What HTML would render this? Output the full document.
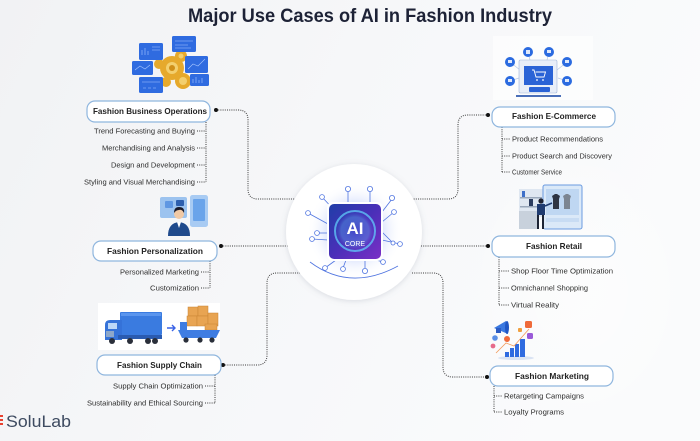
<!DOCTYPE html>
<html><head><meta charset="utf-8"><style>
html,body{margin:0;padding:0;width:700px;height:441px;overflow:hidden;background:#f5f6f8}
svg{display:block}
</style></head><body>
<svg width="700" height="441" viewBox="0 0 700 441" xmlns="http://www.w3.org/2000/svg" font-family="'Liberation Sans', sans-serif">
<defs>
<linearGradient id="bg" x1="0" y1="0" x2="1" y2="0.3">
<stop offset="0" stop-color="#f1f2f4"/><stop offset="0.5" stop-color="#f6f7f9"/><stop offset="1" stop-color="#fafbfc"/>
</linearGradient>
<radialGradient id="glow" cx="0.5" cy="0.5" r="0.5">
<stop offset="0" stop-color="#6f5cf0" stop-opacity="0.55"/><stop offset="0.6" stop-color="#8fa8f5" stop-opacity="0.25"/><stop offset="1" stop-color="#ffffff" stop-opacity="0"/>
</radialGradient>
<radialGradient id="soft" cx="0.5" cy="0.5" r="0.5">
<stop offset="0" stop-color="#ffffff" stop-opacity="0.5"/><stop offset="1" stop-color="#ffffff" stop-opacity="0"/>
</radialGradient>
<linearGradient id="chip" x1="0" y1="0" x2="1" y2="1">
<stop offset="0" stop-color="#1f3ea8"/><stop offset="0.5" stop-color="#4a2fb8"/><stop offset="1" stop-color="#7a2fc6"/>
</linearGradient>
<radialGradient id="chipin" cx="0.5" cy="0.5" r="0.5">
<stop offset="0" stop-color="#3b56d8"/><stop offset="0.7" stop-color="#5fd0ff" stop-opacity="0.6"/><stop offset="1" stop-color="#3b56d8" stop-opacity="0"/>
</radialGradient>
<filter id="sh" x="-20%" y="-20%" width="140%" height="140%"><feDropShadow dx="0" dy="1" stdDeviation="3" flood-color="#7a8498" flood-opacity="0.25"/></filter>
</defs>
<rect width="700" height="441" fill="url(#bg)"/>
<rect x="460" y="140" width="240" height="301" fill="url(#soft)"/>

<!-- Title -->
<text x="188" y="22" font-size="19" font-weight="bold" fill="#1d2236" textLength="364" lengthAdjust="spacingAndGlyphs">Major Use Cases of AI in Fashion Industry</text>

<!-- main connectors -->
<g fill="none" stroke="#3a3a3a" stroke-width="1" stroke-dasharray="1 1.2">
<path d="M216,110 H238 Q248,110 248,120 V189 Q248,199 258,199 H296"/>
<path d="M488,115 H468 Q458,115 458,125 V189 Q458,199 448,199 H413"/>
<path d="M221,246 H288"/>
<path d="M223,365 H257 Q267,365 267,355 V283 Q267,273 277,273 H300"/>
<path d="M488,246 H421"/>
<path d="M412,273 H433 Q443,273 443,283 V367 Q443,377 453,377 H487"/>
<!-- sub connectors -->
<path d="M206,122 V182 M197,131 H206 M197,148 H206 M197,165 H206 M197,182 H206"/>
<path d="M502,127 V172 M502,139 H510 M502,156 H510 M502,172 H510"/>
<path d="M210,261 V288 M201,272 H210 M201,288 H210"/>
<path d="M215,375 V403 M205,386 H215 M205,403 H215"/>
<path d="M499,257 V305 M499,271 H509 M499,288 H509 M499,305 H509"/>
<path d="M494,386 V412 M494,396 H502 M494,412 H502"/>
</g>
<g fill="#111">
<circle cx="216" cy="110" r="2"/><circle cx="488" cy="115" r="2"/><circle cx="221" cy="246" r="2"/>
<circle cx="223" cy="365" r="2"/><circle cx="488" cy="246" r="2"/><circle cx="487" cy="377" r="2"/>
</g>

<!-- center circle -->
<circle cx="354" cy="232" r="68" fill="#ffffff" filter="url(#sh)"/>
<circle cx="355" cy="231" r="48" fill="url(#glow)"/>
<g fill="none" stroke="#4f74e0" stroke-width="0.8">
<path d="M348,203 V190 M370,203 V196 L370,190 M336,212 L322,197 M382,212 L392,199 M382,222 L394,212 M328,224 L308,213 M328,233 L317,233 M328,240 L312,239 M382,240 L400,244 M382,232 L393,243 M336,260 L325,268 M346,260 L343,268 M365,260 L365,270 M376,260 L383,262"/>
<path d="M310,262 Q350,292 398,266"/>
</g>
<g fill="#ffffff" stroke="#4f74e0" stroke-width="0.8">
<circle cx="348" cy="189" r="2.6"/><circle cx="370" cy="189" r="2.6"/><circle cx="322" cy="197" r="2.4"/>
<circle cx="392" cy="198" r="2.6"/><circle cx="394" cy="212" r="2.4"/><circle cx="308" cy="213" r="2.4"/>
<circle cx="317" cy="233" r="2.4"/><circle cx="312" cy="239" r="2.4"/><circle cx="400" cy="244" r="2.4"/>
<circle cx="393" cy="243" r="2"/><circle cx="325" cy="268" r="2.4"/><circle cx="343" cy="269" r="2.4"/>
<circle cx="365" cy="271" r="2.6"/><circle cx="383" cy="262" r="2.4"/>
</g>
<rect x="327" y="202" width="56" height="59" rx="6" fill="#ffffff"/>
<rect x="329" y="204" width="52" height="55" rx="5" fill="url(#chip)"/>
<circle cx="355" cy="231" r="20" fill="none" stroke="#63d6ff" stroke-width="2" opacity="0.7"/>
<circle cx="355" cy="231" r="20" fill="url(#chipin)" opacity="0.5"/>
<text x="355" y="234" font-size="17" font-weight="bold" fill="#ffffff" text-anchor="middle">AI</text>
<text x="355" y="246" font-size="7" fill="#ffffff" text-anchor="middle">CORE</text>

<!-- boxes -->
<g fill="#ffffff" stroke="#8fb6de" stroke-width="1.2">
<rect x="87" y="101" width="123" height="21" rx="8"/>
<rect x="492" y="107" width="123" height="20" rx="8"/>
<rect x="93" y="241" width="124" height="20" rx="8"/>
<rect x="97" y="355" width="124" height="20" rx="8"/>
<rect x="492" y="236" width="123" height="21" rx="8"/>
<rect x="490" y="366" width="123" height="20" rx="8"/>
</g>
<g font-size="8.5" font-weight="bold" fill="#232323">
<text x="93" y="114" textLength="114" lengthAdjust="spacingAndGlyphs">Fashion Business Operations</text>
<text x="512" y="119" textLength="84" lengthAdjust="spacingAndGlyphs">Fashion E-Commerce</text>
<text x="107" y="254" textLength="96" lengthAdjust="spacingAndGlyphs">Fashion Personalization</text>
<text x="117" y="368" textLength="85" lengthAdjust="spacingAndGlyphs">Fashion Supply Chain</text>
<text x="526" y="249" textLength="56" lengthAdjust="spacingAndGlyphs">Fashion Retail</text>
<text x="515" y="379" textLength="74" lengthAdjust="spacingAndGlyphs">Fashion Marketing</text>
</g>
<g font-size="7" fill="#2e2e2e">
<text x="94" y="133.5" textLength="101" lengthAdjust="spacingAndGlyphs">Trend Forecasting and Buying</text>
<text x="102" y="150.5" textLength="93" lengthAdjust="spacingAndGlyphs">Merchandising and Analysis</text>
<text x="111" y="167.5" textLength="84" lengthAdjust="spacingAndGlyphs">Design and Development</text>
<text x="84" y="184.5" textLength="111" lengthAdjust="spacingAndGlyphs">Styling and Visual Merchandising</text>
<text x="512" y="141.5" textLength="91" lengthAdjust="spacingAndGlyphs">Product Recommendations</text>
<text x="512" y="158.5" textLength="100" lengthAdjust="spacingAndGlyphs">Product Search and Discovery</text>
<text x="512" y="174.5" textLength="50" lengthAdjust="spacingAndGlyphs">Customer Service</text>
<text x="120" y="274.5" textLength="79" lengthAdjust="spacingAndGlyphs">Personalized Marketing</text>
<text x="150" y="290.5" textLength="49" lengthAdjust="spacingAndGlyphs">Customization</text>
<text x="113" y="388.5" textLength="90" lengthAdjust="spacingAndGlyphs">Supply Chain Optimization</text>
<text x="87" y="405.5" textLength="116" lengthAdjust="spacingAndGlyphs">Sustainability and Ethical Sourcing</text>
<text x="511" y="273.5" textLength="102" lengthAdjust="spacingAndGlyphs">Shop Floor Time Optimization</text>
<text x="511" y="290.5" textLength="77" lengthAdjust="spacingAndGlyphs">Omnichannel Shopping</text>
<text x="511" y="307.5" textLength="48" lengthAdjust="spacingAndGlyphs">Virtual Reality</text>
<text x="504" y="398.5" textLength="80" lengthAdjust="spacingAndGlyphs">Retargeting Campaigns</text>
<text x="504" y="414.5" textLength="60" lengthAdjust="spacingAndGlyphs">Loyalty Programs</text>
</g>

<!-- Image 1: business ops -->
<g>
<circle cx="172" cy="68" r="12" fill="#e6a92c"/><circle cx="172" cy="68" r="6" fill="#f3cf6e"/><circle cx="172" cy="68" r="3" fill="#d08f18"/>
<circle cx="183" cy="81" r="8" fill="#e6a92c"/><circle cx="183" cy="81" r="4" fill="#f3cf6e"/>
<circle cx="159" cy="64" r="5" fill="#e6a92c"/><circle cx="181" cy="56" r="6" fill="#e6a92c"/><circle cx="181" cy="56" r="2.5" fill="#f3cf6e"/>
<circle cx="166" cy="82" r="5" fill="#e6a92c"/>
<rect x="139" y="43" width="24" height="17" rx="1.5" fill="#2f6be0"/>
<rect x="172" y="36" width="24" height="16" rx="1.5" fill="#2f6be0"/>
<rect x="132" y="61" width="21" height="14" rx="1.5" fill="#2f6be0"/>
<rect x="185" y="56" width="23" height="17" rx="1.5" fill="#2f6be0"/>
<rect x="139" y="77" width="24" height="16" rx="1.5" fill="#2f6be0"/>
<rect x="190" y="74" width="19" height="12" rx="1.5" fill="#2f6be0"/>
<g stroke="#a9c8ff" stroke-width="0.6" fill="none">
<path d="M142,55 V50 M145,55 V48 M148,55 V51 M152,47 H160 M152,50 H160"/>
<path d="M175,41 H193 M175,45 H188 M175,48 H191"/>
<path d="M135,70 L140,66 L145,69 L150,65"/>
<path d="M188,69 L193,64 L198,66 L205,59"/>
<path d="M142,82 H160 M143,88 H146 M148,88 H151 M153,88 H156"/>
<path d="M193,83 V79 M196,83 V77 M199,83 V80 M202,83 V78"/>
</g>
</g>

<!-- Image 2: e-commerce -->
<g>
<rect x="493" y="36" width="100" height="64" fill="#ffffff" opacity="0.6"/>
<g stroke="#b8c9e6" stroke-width="0.7" fill="none"><path d="M510,62 L520,70 M528,52 L530,60 M549,52 L547,60 M567,62 L557,70 M510,81 L519,78 M567,81 L558,78"/></g>
<rect x="519" y="60" width="38" height="33" rx="1.5" fill="#e8eef8" stroke="#9fb5d8" stroke-width="0.6"/>
<rect x="524" y="66" width="29" height="19" fill="#2a63d6"/>
<path d="M532,70 h2 l2,7 h8 l1.5,-5 h-10" fill="none" stroke="#ffffff" stroke-width="0.9"/>
<circle cx="537" cy="80" r="0.9" fill="#fff"/><circle cx="543" cy="80" r="0.9" fill="#fff"/>
<rect x="529" y="87" width="21" height="5" rx="1" fill="#2a63d6"/>
<rect x="516" y="95" width="45" height="2" fill="#4a6fb8"/>
<g fill="#2b6be0"><circle cx="510" cy="62" r="5"/><circle cx="528" cy="52" r="5"/><circle cx="549" cy="52" r="5"/><circle cx="567" cy="62" r="5"/><circle cx="510" cy="81" r="5"/><circle cx="567" cy="81" r="5"/></g>
<g fill="#ffffff" opacity="0.85"><rect x="508" y="60" width="4" height="3"/><rect x="526" y="50" width="4" height="4"/><rect x="547" y="50" width="4" height="3"/><rect x="565" y="60" width="4" height="3"/><rect x="508" y="79" width="4" height="3"/><rect x="565" y="79" width="4" height="3"/></g>
</g>

<!-- Image 3: personalization -->
<g>
<rect x="160" y="197" width="27" height="21" rx="2" fill="#9cc3ef"/>
<rect x="165" y="201" width="8" height="7" rx="1" fill="#5f97e2"/>
<rect x="176" y="200" width="8" height="6" rx="1" fill="#2d5fae"/>
<rect x="190" y="195" width="18" height="32" rx="2.5" fill="#a8cbf3"/>
<rect x="193" y="199" width="12" height="22" rx="1" fill="#6aa4ea"/>
<path d="M168,236 Q168,223 179,222 Q190,223 190,236 Z" fill="#1f4a8c"/>
<path d="M177,222 L179,228 L181,222 Z" fill="#ffffff"/>
<circle cx="179" cy="214" r="5" fill="#f1c9a5"/>
<path d="M174,213 Q174,207 179,207 Q185,207 184,213 Q182,209 179,210 Q176,210 174,213 Z" fill="#1b1b2b"/>
</g>

<!-- Image 4: retail -->
<g>
<rect x="519" y="189" width="24" height="28" fill="#dfe7f1"/>
<rect x="520" y="197" width="22" height="1.5" fill="#9aa8bb"/><rect x="520" y="206" width="22" height="1.5" fill="#9aa8bb"/>
<rect x="522" y="191" width="3" height="6" fill="#3d6fc8"/><rect x="529" y="199" width="4" height="7" fill="#2b3c5e"/>
<rect x="519" y="211" width="18" height="18" fill="#c8d1dc"/>
<rect x="543" y="185" width="39" height="44" rx="2" fill="#dbe9f8" stroke="#6b9be0" stroke-width="1"/>
<rect x="546" y="189" width="33" height="26" fill="#bfd7f2"/>
<path d="M552,196 l3,-2 h2 l3,2 l-1,3 v10 h-6 v-10 z" fill="#2e3442"/>
<path d="M563,196 l3,-2 h2 l3,2 l-1,3 v10 h-6 v-10 z" fill="#7c8591"/>
<rect x="546" y="218" width="33" height="4" fill="#c8dcf3"/>
<circle cx="541" cy="201" r="2.6" fill="#1e2230"/>
<path d="M537,204 h8 v11 h-8 z" fill="#1f3b70"/>
<path d="M545,206 l7,-3" stroke="#1f3b70" stroke-width="1.5"/>
<path d="M538,215 v14 M543,215 v14" stroke="#1d2434" stroke-width="2"/>
</g>

<!-- Image 5: supply chain -->
<g>
<rect x="98" y="303" width="122" height="47" fill="#ffffff"/>
<rect x="120" y="312" width="42" height="23" rx="1" fill="#3a7be0"/>
<rect x="121" y="313" width="40" height="3" fill="#5a95ee"/>
<path d="M105,340 V325 Q105,320 110,320 H122 V340 Z" fill="#3572d8"/>
<rect x="108" y="323" width="9" height="6" fill="#bcd7f7"/>
<rect x="106" y="331" width="8" height="6" fill="#8da7c9"/>
<rect x="118" y="335" width="44" height="4" fill="#2a5bb0"/>
<g fill="#2a2f3a"><circle cx="112" cy="341" r="3"/><circle cx="130" cy="341" r="3"/><circle cx="148" cy="341" r="3"/><circle cx="155" cy="341" r="3"/></g>
<path d="M167,328 h8 M172,325 l3,3 l-3,3" stroke="#3a62e6" stroke-width="1.4" fill="none"/>
<g fill="#e8a452" stroke="#c98434" stroke-width="0.5">
<rect x="188" y="307" width="10" height="9"/><rect x="198" y="306" width="10" height="10"/>
<rect x="187" y="316" width="10" height="10"/><rect x="197" y="316" width="11" height="10"/>
<rect x="208" y="313" width="10" height="13"/><rect x="205" y="324" width="12" height="6"/>
</g>
<rect x="180" y="322" width="7" height="9" fill="#3f7de2"/>
<path d="M178,330 H220 L216,338 H182 Z" fill="#3f7de2"/>
<g fill="#2a2f3a"><circle cx="186" cy="340" r="2.6"/><circle cx="200" cy="340" r="2.6"/><circle cx="212" cy="340" r="2.6"/></g>
</g>

<!-- Image 6: marketing -->
<g>
<ellipse cx="516" cy="358" rx="18" ry="2" fill="#d9e3f3"/>
<rect x="505" y="352" width="4" height="5" fill="#2f6be0"/>
<rect x="510" y="348" width="4" height="9" fill="#2f6be0"/>
<rect x="515" y="344" width="4" height="13" fill="#2f6be0"/>
<rect x="520" y="339" width="5" height="18" fill="#2f6be0"/>
<path d="M496,353 L506,343 L514,346 L529,329" stroke="#f29a5a" stroke-width="0.8" fill="none"/>
<path d="M494,328 L506,321 L508,334 Z" fill="#3a78e0"/>
<ellipse cx="507" cy="327.5" rx="2" ry="6.5" fill="#1f56c4"/>
<rect x="496" y="328" width="5" height="5" fill="#2a5bc4"/>
<circle cx="495" cy="338" r="2.8" fill="#5b8fe6"/>
<circle cx="493" cy="346" r="2.4" fill="#e66a8a"/>
<circle cx="507" cy="339" r="3" fill="#ef6a3a"/>
<rect x="525" y="321" width="7" height="7" rx="1.5" fill="#ef6a3a"/>
<rect x="527" y="333" width="6" height="6" rx="1.5" fill="#9a5ad8"/>
<rect x="518" y="328" width="4" height="4" rx="1" fill="#f0a040"/>
</g>

<!-- logo -->
<g>
<rect x="0" y="415" width="3" height="2" fill="#e8412f"/><rect x="0" y="419" width="3" height="2" fill="#e8412f"/><rect x="0" y="423" width="3" height="2" fill="#e8412f"/>
<text x="6" y="427" font-size="17" fill="#3d4a60" textLength="65" lengthAdjust="spacingAndGlyphs">SoluLab</text>
</g>
</svg>
</body></html>
